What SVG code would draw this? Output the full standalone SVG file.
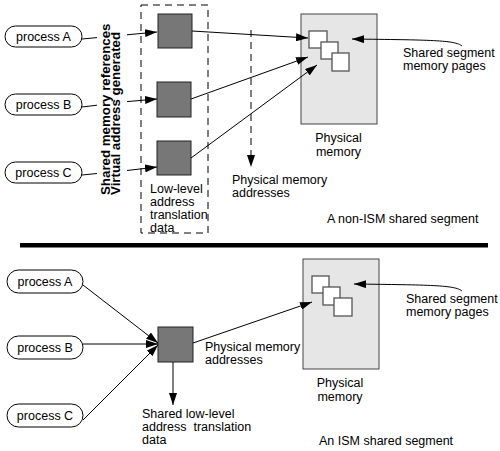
<svg xmlns="http://www.w3.org/2000/svg" width="500" height="451" viewBox="0 0 500 451">
<defs>
<marker id="ah" markerUnits="userSpaceOnUse" markerWidth="12" markerHeight="8" refX="12" refY="4" orient="auto">
<path d="M0,0 L12,4 L0,8 Z" fill="#000"/>
</marker>
<style>
text{font-family:"Liberation Sans",Arial,sans-serif;font-size:12.5px;fill:#000}
.pill{fill:#fff;stroke:#000;stroke-width:1}
.sq{fill:#777;stroke:#222;stroke-width:1}
.mem{fill:#e6e6e6;stroke:#444;stroke-width:1}
.pg{fill:#fff;stroke:#555;stroke-width:1.3}
.ln{fill:none;stroke:#000;stroke-width:1;marker-end:url(#ah)}
.bold{font-weight:bold;font-size:13.3px}
.mid{text-anchor:middle}
</style>
</defs>
<rect width="500" height="451" fill="#fff"/>

<!-- top section -->
<g id="procA1"><rect class="pill" x="5" y="26" width="77" height="21" rx="10.5"/><text class="mid" x="43.5" y="40.5">process A</text></g>
<g id="procB1"><rect class="pill" x="5" y="94" width="77" height="21" rx="10.5"/><text class="mid" x="43.5" y="108.5">process B</text></g>
<g id="procC1"><rect class="pill" x="5" y="162" width="77" height="21" rx="10.5"/><text class="mid" x="43.5" y="176.5">process C</text></g>

<g id="vlabel">
<text class="bold" transform="translate(109.5,195) rotate(-90)">Shared memory references</text>
<text class="bold" transform="translate(120,195) rotate(-90)">Virtual address generated</text>
</g>

<g id="lowlevel">
<rect x="141" y="5" width="67" height="228" fill="none" stroke="#000" stroke-width="1" stroke-dasharray="7,5"/>
<rect class="sq" x="158" y="14" width="34" height="34"/>
<rect class="sq" x="157" y="82" width="34" height="35"/>
<rect class="sq" x="157" y="141" width="34" height="34"/>
<text x="150" y="193">Low-level</text>
<text x="150" y="206">address</text>
<text x="150" y="219">translation</text>
<text x="150" y="232">data</text>
</g>

<g id="phys1">
<rect class="mem" x="301" y="14" width="76" height="110"/>
<rect class="pg" x="309" y="31" width="18" height="17"/>
<rect class="pg" x="321" y="42" width="17" height="17"/>
<rect class="pg" x="332" y="53" width="17" height="18"/>
<text class="mid" x="338.5" y="142">Physical</text>
<text class="mid" x="338.5" y="156">memory</text>
</g>

<g id="labels1">
<text x="403" y="57">Shared segment</text>
<text x="403" y="70">memory pages</text>
<text x="232" y="184">Physical memory</text>
<text x="232" y="197">addresses</text>
<text x="327" y="223">A non-ISM shared segment</text>
</g>

<g id="connectors1">
<path class="ln" d="M82 39 L97 37.6 M127 34.8 L157 32"/>
<path class="ln" d="M82 107 L97 105.2 M127 101.6 L157 99"/>
<path class="ln" d="M82 175 L97 173.5 M127 170.5 L157 167"/>
<path class="ln" d="M192 31 L308 38"/>
<path class="ln" d="M191 99 L308 57"/>
<path class="ln" d="M191 158 L317 65"/>
<path class="ln" d="M462 46 C455 40 430 40 352 39"/>
<path d="M251 30 L251 157" fill="none" stroke="#000" stroke-width="1" stroke-dasharray="7,5"/>
<path d="M247 155 L251 167 L255 155 Z" fill="#000"/>
</g>

<rect id="divider" x="20" y="243" width="468" height="4.5" fill="#000"/>

<!-- bottom section -->
<g id="procA2"><rect class="pill" x="7" y="270" width="76" height="23" rx="11.5"/><text class="mid" x="45" y="285.5">process A</text></g>
<g id="procB2"><rect class="pill" x="7" y="336" width="76" height="23" rx="11.5"/><text class="mid" x="45" y="351.5">process B</text></g>
<g id="procC2"><rect class="pill" x="7" y="404" width="76" height="23" rx="11.5"/><text class="mid" x="45" y="419.5">process C</text></g>

<g id="shared">
<rect class="sq" x="158" y="327" width="35" height="35"/>
<text x="142" y="418">Shared low-level</text>
<text x="142" y="431">address&#160; translation</text>
<text x="142" y="444">data</text>
</g>

<g id="phys2">
<rect class="mem" x="303" y="259" width="76" height="110"/>
<rect class="pg" x="312" y="276" width="17" height="17"/>
<rect class="pg" x="323" y="287" width="17" height="18"/>
<rect class="pg" x="334" y="298" width="18" height="18"/>
<text class="mid" x="340" y="387">Physical</text>
<text class="mid" x="340" y="401">memory</text>
</g>

<g id="labels2">
<text x="406" y="303">Shared segment</text>
<text x="406" y="316">memory pages</text>
<text x="205" y="351">Physical memory</text>
<text x="205" y="364">addresses</text>
<text x="319" y="445">An ISM shared segment</text>
</g>

<g id="connectors2">
<path class="ln" d="M83 285 L158 343"/>
<path class="ln" d="M83 344 L158 344"/>
<path class="ln" d="M83 420 L158 345"/>
<path class="ln" d="M173 362 L173 405"/>
<path class="ln" d="M193 343 L312 302"/>
<path class="ln" d="M462 291 C455 285 430 285 354 284"/>
</g>
</svg>
